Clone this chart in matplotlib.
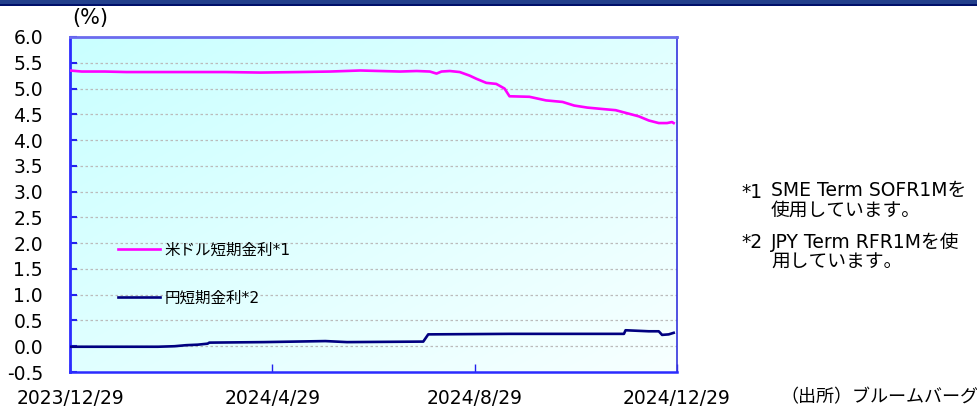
import matplotlib
matplotlib.use('Agg')
import matplotlib.pyplot as plt
import numpy as np
import pandas as pd

plt.rcParams['font.family'] = ['DejaVu Sans', 'Noto Sans CJK JP']

# data
usd_dates = ['2023-12-29', '2024-01-05', '2024-01-19', '2024-02-01', '2024-02-15',
             '2024-03-01', '2024-03-15', '2024-04-01', '2024-04-22', '2024-05-15',
             '2024-06-03', '2024-06-21', '2024-07-03', '2024-07-15', '2024-07-25',
             '2024-08-02', '2024-08-06', '2024-08-09', '2024-08-14', '2024-08-20',
             '2024-08-26', '2024-08-30', '2024-09-05', '2024-09-11', '2024-09-16',
             '2024-09-19', '2024-10-01', '2024-10-11', '2024-10-21', '2024-10-28',
             '2024-11-05', '2024-11-15', '2024-11-22', '2024-11-29', '2024-12-06',
             '2024-12-12', '2024-12-18', '2024-12-23', '2024-12-26', '2024-12-27']
usd_rate = [5.35, 5.33, 5.33, 5.32, 5.32,
            5.32, 5.32, 5.32, 5.31, 5.32,
            5.33, 5.35, 5.34, 5.33, 5.34,
            5.33, 5.29, 5.33, 5.34, 5.32,
            5.25, 5.19, 5.11, 5.09, 5.00,
            4.85, 4.84, 4.77, 4.74, 4.67,
            4.63, 4.60, 4.58, 4.52, 4.46,
            4.38, 4.33, 4.33, 4.35, 4.33]

jpy_dates = ['2023-12-29', '2024-02-20', '2024-03-01', '2024-03-08', '2024-03-15',
             '2024-03-21', '2024-03-22', '2024-04-24', '2024-05-31', '2024-06-13',
             '2024-07-29', '2024-08-01', '2024-09-19', '2024-11-27', '2024-11-28',
             '2024-12-12', '2024-12-18', '2024-12-20', '2024-12-24', '2024-12-27']
jpy_rate = [-0.01, -0.01, 0.00, 0.02, 0.03,
            0.05, 0.07, 0.08, 0.10, 0.08,
            0.09, 0.23, 0.24, 0.24, 0.31,
            0.29, 0.29, 0.22, 0.23, 0.26]

series_labels = ['米ドル短期金利*1', '円短期金利*2']
tick_dates = ['2023-12-29', '2024-04-29', '2024-08-29', '2024-12-29']
tick_labels = ['2023/12/29', '2024/4/29', '2024/8/29', '2024/12/29']
y_ticks = [-0.5, 0.0, 0.5, 1.0, 1.5, 2.0, 2.5, 3.0, 3.5, 4.0, 4.5, 5.0, 5.5, 6.0]
note_marks = ['*1', '*2']
note_texts = ['SME Term SOFR1Mを\n使用しています。', 'JPY Term RFR1Mを使\n用しています。']

usd_x = pd.to_datetime(usd_dates)
jpy_x = pd.to_datetime(jpy_dates)
tick_x = pd.to_datetime(tick_dates)

fig = plt.figure(figsize=(9.77, 4.08), dpi=100, facecolor='white')
ax = fig.add_axes([70 / 977, 36 / 408, 607 / 977, 335 / 408])

# light cyan diagonal gradient background
gx, gy = np.meshgrid(np.linspace(0, 1, 200), np.linspace(0, 1, 200))
t = (gx + gy) / 2
red = 0.79 + 0.18 * t
grad = np.dstack([red, np.ones_like(t), np.ones_like(t)])
ax.imshow(grad, extent=[0, 1, 0, 1], transform=ax.transAxes, aspect='auto',
          zorder=0, origin='upper')

l1, = ax.plot(usd_x, usd_rate, color='#FF00FF', lw=1.9, zorder=3, label=series_labels[0])
l2, = ax.plot(jpy_x, jpy_rate, color='#000080', lw=1.9, zorder=3, label=series_labels[1])

ax.set_xlim(tick_x[0], tick_x[-1])
ax.set_ylim(-0.5, 6.0)
ax.set_yticks(y_ticks)
ax.set_yticklabels([f'{v:.1f}' for v in y_ticks])
ax.set_xticks(tick_x)
ax.set_xticklabels(tick_labels)

for v in y_ticks[1:-1]:
    ax.axhline(v, color='#BBBBBB', lw=0.9, ls=(0, (2, 2)), zorder=1)

ax.tick_params(axis='y', direction='in', length=5, width=1.5, color='#2222EE',
               labelsize=13.5, pad=19.5)
ax.tick_params(axis='x', direction='in', length=6, width=1.0, color='#2222EE',
               labelsize=13.5, pad=12)

ax.spines['left'].set_color('#2B2BFF')
ax.spines['left'].set_linewidth(2.0)
ax.spines['bottom'].set_color('#2B2BFF')
ax.spines['bottom'].set_linewidth(1.8)
ax.spines['top'].set_color('#6B6BEE')
ax.spines['top'].set_linewidth(2.0)
ax.spines['right'].set_color('#3333DD')
ax.spines['right'].set_linewidth(1.2)

ax.legend(handles=[l1, l2], loc='center left', bbox_to_anchor=(0.079, 0.2925),
          frameon=False, fontsize=11.2, handlelength=2.7, handletextpad=0.3,
          labelspacing=2.15, borderpad=0, borderaxespad=0)

# header band (cropped title bar)
fig.patches.append(plt.Rectangle((0, 1 - 5 / 408), 1, 5 / 408, transform=fig.transFigure,
                                 facecolor='#23408C', edgecolor='none'))
fig.patches.append(plt.Rectangle((0, 1 - 6 / 408), 1, 2 / 408, transform=fig.transFigure,
                                 facecolor='#00106A', edgecolor='none'))

fig.text(90 / 977, 1 - 18 / 408, '(%)', fontsize=15, ha='center', va='center')

# footnotes: marker + two-line body
for mark, body, y0 in zip(note_marks, note_texts, [192, 243]):
    fig.text(741 / 977, 1 - y0 / 408, mark, fontsize=13.5, va='center')
    fig.text(771 / 977, 1 - (y0 - 11) / 408, body, fontsize=13.5, va='top',
             linespacing=1.05)

fig.text(780 / 977, 1 - 397 / 408, '（出所）ブルームバーグ', fontsize=13,
         va='center', family=['Noto Sans CJK JP'])

fig.savefig('out.png', dpi=100)
